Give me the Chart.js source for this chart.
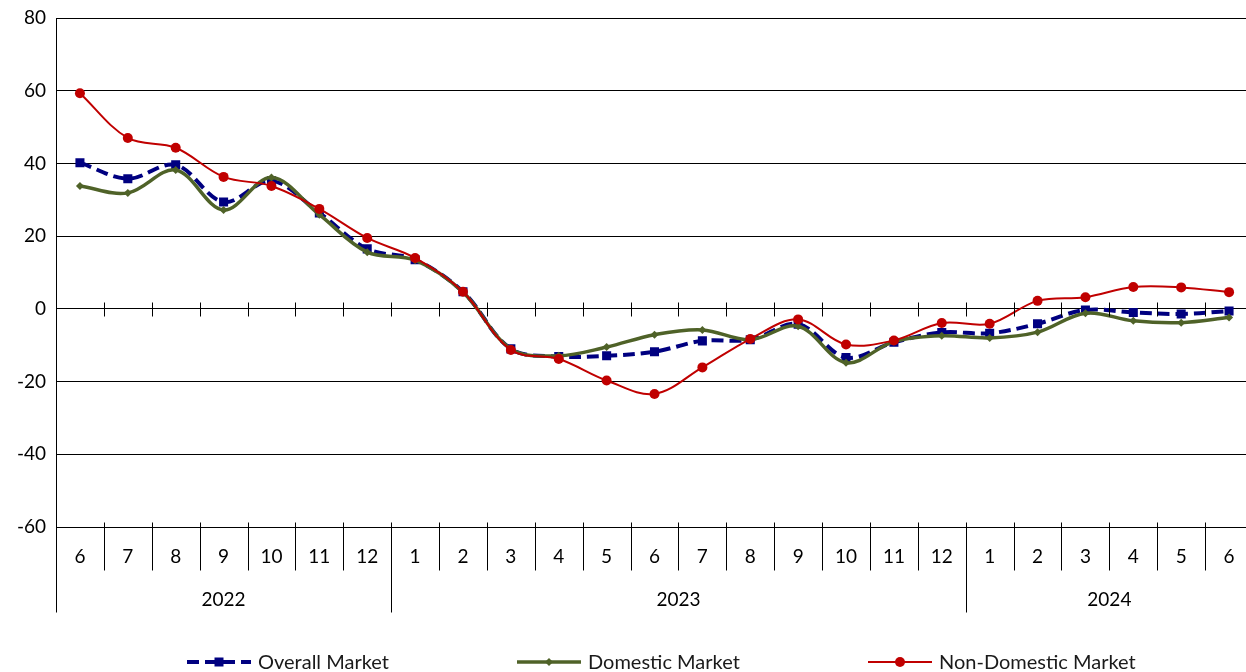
<!DOCTYPE html>
<html>
<head>
<meta charset="utf-8">
<script src="https://cdn.jsdelivr.net/npm/chart.js@4.4.1/dist/chart.umd.min.js"></script>
<style>
    html, body { margin: 0; padding: 0; background: #fff; overflow: hidden; }
    body { width: 1246px; height: 672px; }
    #chart { display: block; }
</style>
</head>
<body>
<canvas id="chart" width="1254" height="672"></canvas>
<script>
// Data kategori (bulan) dan tahun
const months = ['6', '7', '8', '9', '10', '11', '12', '1', '2', '3', '4', '5', '6', '7', '8', '9', '10', '11', '12', '1', '2', '3', '4', '5', '6'];
const years = ['2022', '2023', '2024'];
const yTicks = [80, 60, 40, 20, 0, -20, -40, -60];

// Nilai tiap seri
const overallMarket = [40.2, 35.8, 39.6, 29.4, 35.2, 26.4, 16.5, 13.5, 4.7, -11.0, -13.1, -12.9, -11.8, -8.8, -8.5, -4.2, -13.4, -9.2, -6.5, -6.7, -4.1, -0.3, -1.0, -1.4, -0.6];
const domesticMarket = [33.8, 31.9, 38.2, 27.2, 36.1, 25.9, 15.6, 13.4, 4.6, -11.0, -12.9, -10.5, -7.1, -5.8, -8.5, -4.8, -14.8, -9.0, -7.4, -8.0, -6.4, -1.2, -3.3, -3.8, -2.4];
const nonDomesticMarket = [59.3, 47.0, 44.3, 36.3, 33.8, 27.5, 19.5, 14.0, 4.7, -11.3, -13.8, -19.7, -23.4, -16.1, -8.3, -2.9, -9.8, -8.7, -3.9, -4.1, 2.2, 3.2, 6.0, 5.9, 4.6];

const FONT = 'Lato, "Liberation Sans", sans-serif';

// Plugin untuk sumbu kategori bertingkat dan legenda
const customAxis = {
    id: 'customAxis',
    afterDraw(chart) {
        const ctx = chart.ctx;
        const x = chart.scales.x;
        const y = chart.scales.y;
        const area = chart.chartArea;
        const y0 = Math.round(y.getPixelForValue(0)) + 0.5;
        const bottom = Math.round(area.bottom) + 0.5;
        const left = Math.round(area.left) + 0.5;

        const boundary = i => (x.getPixelForValue(i - 1) + x.getPixelForValue(i)) / 2;

        ctx.save();
        ctx.strokeStyle = '#000';
        ctx.lineWidth = 1;
        ctx.beginPath();
        // tick di garis nol
        for (let i = 1; i < months.length; i++) {
            const bx = Math.round(boundary(i)) + 0.5;
            ctx.moveTo(bx, y0 - 7);
            ctx.lineTo(bx, y0 + 7);
        }
        // pemisah bulan dan tahun di bawah
        for (let i = 1; i < months.length; i++) {
            const bx = Math.round(boundary(i)) + 0.5;
            const len = months[i] === '1' ? 85 : 43;
            ctx.moveTo(bx, bottom - 5);
            ctx.lineTo(bx, bottom + len);
        }
        ctx.moveTo(left, bottom);
        ctx.lineTo(left, bottom + 85);
        ctx.stroke();

        // label bulan
        ctx.fillStyle = '#000';
        ctx.font = '19px ' + FONT;
        ctx.textAlign = 'center';
        ctx.textBaseline = 'middle';
        months.forEach((m, i) => {
            ctx.fillText(m, x.getPixelForValue(i), bottom + 29);
        });

        // label tahun
        let start = 0;
        let g = 0;
        for (let i = 1; i <= months.length; i++) {
            if (i === months.length || months[i] === '1') {
                const x1 = start === 0 ? area.left : boundary(start);
                const x2 = i === months.length ? area.right : boundary(i);
                ctx.fillText(years[g], (x1 + x2) / 2, bottom + 72);
                g++;
                start = i;
            }
        }

        // legenda
        const ly = 662;
        const startX = [187, 517, 868];
        ctx.textAlign = 'left';
        chart.data.datasets.forEach((ds, i) => {
            const sx = startX[i];
            ctx.strokeStyle = ds.borderColor;
            ctx.lineWidth = ds.borderWidth;
            ctx.setLineDash(ds.borderDash || []);
            ctx.beginPath();
            ctx.moveTo(sx, ly);
            ctx.lineTo(sx + 64, ly);
            ctx.stroke();
            ctx.setLineDash([]);
            ctx.fillStyle = ds.borderColor;
            const mx = sx + 32;
            ctx.beginPath();
            if (ds.pointStyle === 'rect') {
                ctx.rect(mx - 4.5, ly - 4.5, 9, 9);
            } else if (ds.pointStyle === 'rectRot') {
                ctx.moveTo(mx, ly - 4);
                ctx.lineTo(mx + 4, ly);
                ctx.lineTo(mx, ly + 4);
                ctx.lineTo(mx - 4, ly);
                ctx.closePath();
            } else {
                ctx.arc(mx, ly, 5, 0, Math.PI * 2);
            }
            ctx.fill();
            ctx.fillStyle = '#1a1a1a';
            ctx.font = '20px ' + FONT;
            ctx.fillText(ds.label, sx + 71, ly + 1);
        });
        ctx.restore();
    }
};

new Chart(document.getElementById('chart').getContext('2d'), {
    type: 'line',
    data: {
        labels: months,
        datasets: [{
            label: 'Overall Market',
            data: overallMarket,
            borderColor: '#000080',
            backgroundColor: '#000080',
            borderWidth: 4,
            borderDash: [12, 6],
            pointStyle: 'rect',
            pointRadius: 6.4,
            pointBorderWidth: 0,
            tension: 0.35,
            order: 3
        }, {
            label: 'Domestic Market',
            data: domesticMarket,
            borderColor: '#4f6228',
            backgroundColor: '#4f6228',
            borderWidth: 3.5,
            pointStyle: 'rectRot',
            pointRadius: 4,
            pointBorderWidth: 0,
            tension: 0.35,
            order: 2
        }, {
            label: 'Non-Domestic Market',
            data: nonDomesticMarket,
            borderColor: '#c00000',
            backgroundColor: '#c00000',
            borderWidth: 2,
            pointStyle: 'circle',
            pointRadius: 5,
            pointBorderWidth: 0,
            tension: 0.35,
            order: 1
        }]
    },
    options: {
        responsive: false,
        animation: false,
        layout: {
            autoPadding: false,
            padding: { top: 18, bottom: 145, left: 0, right: 1 }
        },
        plugins: {
            legend: { display: false },
            tooltip: { enabled: false }
        },
        scales: {
            x: {
                display: false,
                offset: true
            },
            y: {
                min: -60,
                max: 80,
                afterFit: scale => {
                    scale.width = 56;
                    scale.paddingTop = 0;
                    scale.paddingBottom = 0;
                    scale.paddingLeft = 0;
                    scale.paddingRight = 0;
                },
                afterBuildTicks: scale => { scale.ticks = yTicks.map(v => ({ value: v })); },
                grid: {
                    color: '#000',
                    lineWidth: 1,
                    drawTicks: false
                },
                border: { color: '#000', width: 1 },
                ticks: {
                    padding: 10,
                    color: '#000',
                    font: { family: FONT, size: 19 }
                }
            }
        }
    },
    plugins: [customAxis]
});
</script>
</body>
</html>
